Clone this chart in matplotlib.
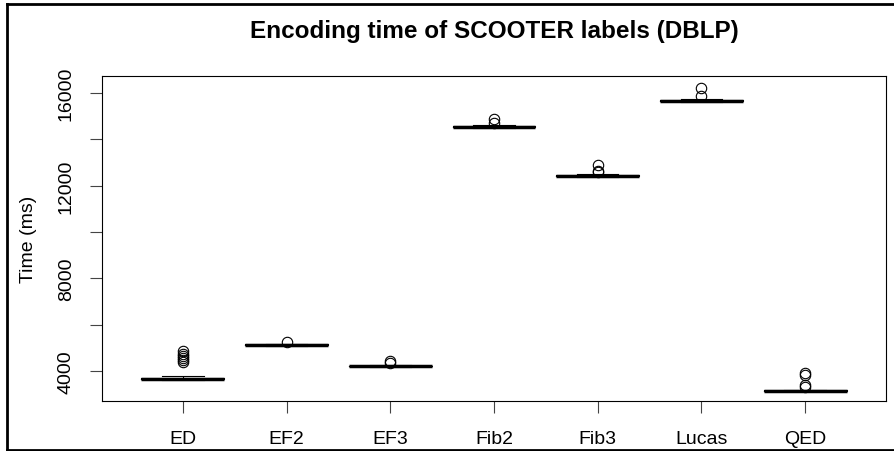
import matplotlib
matplotlib.use("Agg")
import matplotlib.pyplot as plt
from matplotlib.lines import Line2D

plt.rcParams['font.family'] = ['Liberation Sans', 'DejaVu Sans']

# per-method summary of encoding time (ms)
methods = ["ED", "EF2", "EF3", "Fib2", "Fib3", "Lucas", "QED"]
q1 = [3640, 5110, 4190, 14510, 12400, 15630, 3140]
medians = [3655, 5130, 4200, 14530, 12420, 15650, 3150]
q3 = [3680, 5145, 4215, 14560, 12440, 15680, 3160]
whis_lo = [3620, 5090, 4170, 14490, 12380, 15610, 3120]
whis_hi = [3770, 5160, 4240, 14620, 12480, 15720, 3180]
fliers = [
    [4850, 4750, 4650, 4550, 4450, 4400],
    [5240],
    [4350, 4420],
    [14700, 14860],
    [12600, 12650, 12900],
    [15860, 16220],
    [3900, 3820, 3400, 3300],
]

stats = []
for i, m in enumerate(methods):
    stats.append(dict(label=m, q1=q1[i], med=medians[i], q3=q3[i],
                      whislo=whis_lo[i], whishi=whis_hi[i], fliers=fliers[i]))

fig = plt.figure(figsize=(8.94, 4.52), dpi=100)
ax = fig.add_axes([102 / 894, 1 - 402 / 452, 784 / 894, 325 / 452])

ax.bxp(stats, positions=range(1, 8), widths=0.8,
       boxprops=dict(color="black", lw=0.8),
       medianprops=dict(color="black", lw=2.5),
       whiskerprops=dict(color="black", lw=0.8, ls="--"),
       capprops=dict(color="black", lw=0.8),
       flierprops=dict(marker="o", markerfacecolor="none",
                       markeredgecolor="black", markersize=7.5, mew=0.8))

ax.set_xlim(0.22, 7.78)
ax.set_ylim(2700, 16730)
yt = list(range(4000, 16001, 2000))
ax.set_yticks(yt)
ax.set_yticklabels([str(v) if v % 4000 == 0 else "" for v in yt],
                   rotation=90, va="center", fontsize=14)
ax.set_xticklabels(methods, fontsize=14)
ax.tick_params(axis="y", length=8.6, width=0.8, pad=11, color="#444444")
ax.tick_params(axis="x", length=8.6, width=0.8, pad=12, color="#444444")
for s in ax.spines.values():
    s.set_linewidth(0.8)

ax.set_ylabel("Time (ms)", fontsize=14, labelpad=15)
fig.text(494 / 894, 1 - 38 / 452, "Encoding time of SCOOTER labels (DBLP)",
         ha="center", va="baseline", fontsize=17.5, fontweight="bold")

# screenshot frame
fig.add_artist(Line2D([7 / 894, 7 / 894], [1 - 451 / 452, 1 - 5 / 452],
                      transform=fig.transFigure, color="black", lw=2))
fig.add_artist(Line2D([7 / 894, 1], [1 - 5 / 452, 1 - 5 / 452],
                      transform=fig.transFigure, color="black", lw=2))
fig.add_artist(Line2D([7 / 894, 1], [1 - 451 / 452, 1 - 451 / 452],
                      transform=fig.transFigure, color="black", lw=2))

fig.savefig("out.png", dpi=100)
